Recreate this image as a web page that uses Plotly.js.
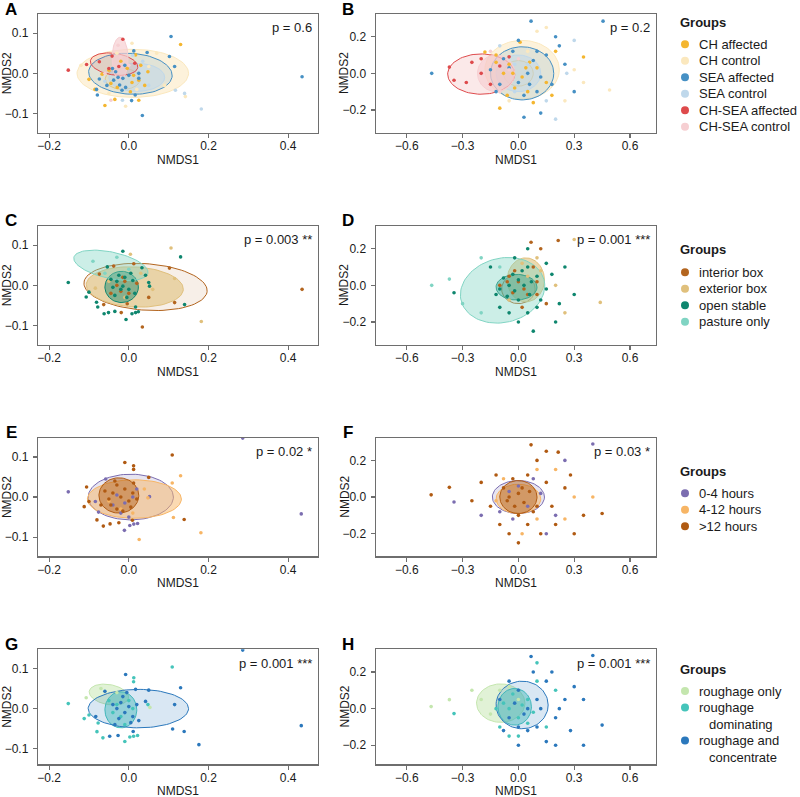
<!DOCTYPE html>
<html><head><meta charset="utf-8">
<script src="https://cdn.plot.ly/plotly-3.0.1.min.js"></script>
<style>html,body{margin:0;padding:0;background:#fff}#chart{width:800px;height:797px}</style>
</head><body><div id="chart"></div>
<script>
// ---------- labels ----------
const groupsLocation = ['CH affected','CH control','SEA affected','SEA control','CH-SEA affected','CH-SEA control'];
const groupsHousing = ['interior box','exterior box','open stable','pasture only'];
const groupsTime = ['0-4 hours','4-12 hours','>12 hours'];
const groupsFeed = ['roughage only','roughage\ndominating','roughage and\nconcentrate'];
const panelLetters = ['A','B','C','D','E','F','G','H'];
const pValues = ['p = 0.6','p = 0.2','p = 0.003 **','p = 0.001 ***','p = 0.02 *','p = 0.03 *','p = 0.001 ***','p = 0.001 ***'];
const xTitle = 'NMDS1', yTitle = 'NMDS2';
const xTicksLeft = [-0.2, 0, 0.2, 0.4];
const yTicksLeft = [-0.1, 0, 0.1];
const xTicksRight = [-0.6, -0.3, 0, 0.3, 0.6];
const yTicksRight = [-0.2, 0, 0.2];

// ---------- points (per group, [NMDS1, NMDS2]) ----------
const A_pts = [
 [[0.13,0.072],[-0.06,-0.08],[-0.035,-0.065],[-0.1,-0.015],[0.025,-0.067],[0.004,-0.046],[0.017,0.046],[0.025,-0.017],[-0.004,0.0125],[-0.05,0.008],[-0.029,-0.035],[-0.067,-0.002],[0.048,0.004],[0.008,-0.023],[-0.085,-0.04],[0.04,-0.03],[-0.02,0.03],[0.012,-0.005],[-0.045,-0.025],[0.03,0.02]],
 [[-0.008,-0.082],[0.05,0.017],[0.008,0.075],[0.142,-0.058],[-0.03,0.05],[0.09,-0.03],[-0.12,0.02],[0.07,0.05],[-0.05,-0.05],[0.02,-0.04]],
 [[0.106,0.092],[0.046,0.052],[0.102,0.042],[0.115,0.017],[0.034,-0.105],[0.016,-0.054],[0.007,-0.068],[-0.079,-0.054],[-0.081,-0.04],[-0.074,-0.014],[0.0125,0.056],[-0.041,0.012],[-0.033,0.004],[-0.027,-0.01],[-0.015,-0.0125],[-0.038,-0.017],[-0.023,-0.029],[-0.008,-0.035],[-0.017,-0.042],[0.025,-0.0125],[0.025,0.0],[0.435,-0.0085],[-0.01,0.02],[0.0,-0.005],[-0.055,-0.03]],
 [[0.182,-0.089],[0.14,-0.05],[0.117,-0.042],[-0.016,-0.067],[0.01,0.045],[-0.06,-0.02],[0.05,-0.03],[0.035,0.03]],
 [[-0.152,0.008],[-0.106,0.022],[-0.074,0.029],[-0.015,0.085],[-0.042,0.043],[-0.05,0.012],[-0.025,0.017],[0.015,0.025]],
 [[-0.027,0.07],[-0.045,-0.067],[-0.02,0.04],[0.0,0.02],[-0.06,0.0]]
];
const C_pts = [
 [[0.102,0.043],[0.115,-0.043],[0.034,-0.104],[-0.019,-0.068],[-0.063,-0.048],[-0.074,0.028],[-0.038,0.048],[0.0125,0.054],[-0.004,-0.046],[0.435,-0.01],[-0.03,0.0],[-0.01,0.01],[-0.02,-0.015],[0.0,-0.02],[0.02,0.005],[-0.045,-0.02],[0.05,-0.03],[-0.015,0.02]],
 [[0.004,0.0775],[0.106,0.093],[0.115,0.017],[0.182,-0.09],[-0.084,-0.007],[0.03,0.03],[-0.01,-0.03],[0.06,-0.01],[-0.05,0.01]],
 [[-0.152,0.007],[-0.015,0.085],[0.13,0.071],[0.14,-0.048],[-0.007,-0.085],[-0.062,-0.071],[-0.051,-0.068],[-0.035,-0.065],[0.008,-0.071],[0.017,-0.068],[0.024,-0.066],[-0.081,-0.042],[-0.078,-0.054],[-0.107,-0.029],[-0.1,-0.017],[-0.054,0.046],[0.033,0.044],[0.042,0.025],[0.05,0.007],[0.052,-0.002],[0.017,-0.054],[-0.03,0.01],[-0.02,-0.01],[-0.01,0.02],[-0.04,-0.005],[0.0,-0.01],[-0.025,0.025],[-0.005,-0.03],[0.01,0.012],[-0.035,-0.025],[0.015,-0.02],[-0.045,0.015],[-0.015,-0.002],[0.005,0.03]],
 [[-0.09,0.06],[-0.03,0.07],[0.0,0.04],[-0.06,0.03]]
];
const E_pts = [
 [[-0.152,0.013],[0.052,0.001],[-0.011,-0.083],[0.0025,-0.071],[0.0125,-0.0675],[0.022,-0.066],[-0.076,-0.0375],[-0.084,-0.011],[-0.058,0.045],[0.286,0.147],[0.433,-0.042],[-0.03,0.005],[-0.01,-0.015],[0.01,0.0],[-0.02,-0.04],[0.0,-0.05],[-0.04,-0.02],[0.02,0.02]],
 [[0.13,0.053],[0.112,-0.051],[0.181,-0.089],[0.026,-0.106],[0.039,0.02],[0.048,-0.002],[0.109,0.035],[-0.02,-0.03],[0.01,-0.04],[-0.05,-0.01]],
 [[-0.01,0.086],[0.012,0.078],[0.012,0.069],[0.109,0.105],[0.05,0.049],[0.139,-0.056],[0.009,-0.058],[-0.025,-0.064],[-0.047,-0.067],[-0.064,-0.0725],[-0.08,-0.057],[-0.112,-0.024],[-0.1,-0.011],[-0.106,0.025],[-0.06,0.015],[-0.04,0.01],[-0.03,0.03],[-0.02,0.0],[-0.01,0.02],[0.0,-0.01],[0.01,0.01],[-0.045,-0.02],[-0.03,-0.03],[-0.015,-0.035],[0.005,-0.025],[0.02,-0.005],[-0.05,-0.005],[-0.035,0.04],[0.012,0.035],[-0.07,-0.02]]
];
const G_pts = [
 [[-0.107,0.027],[0.053,0.003],[-0.07,0.05],[-0.03,0.04]],
 [[-0.152,0.0125],[0.0125,0.077],[0.012,0.067],[0.109,0.104],[0.048,0.01],[-0.112,-0.025],[-0.1,-0.016],[-0.077,-0.036],[-0.08,-0.0575],[-0.065,-0.073],[-0.01,-0.082],[0.0025,-0.071],[0.012,-0.069],[0.022,-0.067],[-0.03,0.01],[-0.02,-0.02],[0.0,0.02],[-0.04,-0.01],[-0.01,-0.04],[0.01,0.0],[-0.05,0.02]],
 [[-0.008,0.085],[0.13,0.052],[0.05,0.046],[0.017,0.048],[0.115,0.01],[0.11,-0.051],[0.139,-0.057],[0.042,0.018],[-0.06,0.043],[-0.083,-0.02],[-0.048,-0.069],[-0.027,-0.067],[0.011,-0.057],[0.286,0.146],[0.433,-0.0425],[0.176,-0.09],[-0.03,0.0],[-0.02,0.015],[-0.01,-0.01],[0.0,0.005],[-0.025,-0.025],[-0.04,0.01],[0.01,-0.02],[-0.015,0.03],[0.02,0.01],[-0.035,-0.04],[0.005,-0.035],[-0.005,0.04],[0.025,-0.03]]
];
const B_pts = [
 [[0.009,0.17],[-0.18,0.116],[0.35,0.089],[-0.1,-0.19],[0.05,-0.1],[-0.05,0.05],[0.02,-0.02],[-0.08,0.0],[0.1,0.03],[0.15,-0.05],[-0.02,-0.08],[0.06,0.06],[-0.12,0.06],[0.2,0.12],[-0.06,-0.12],[-0.12,0.1],[0.18,-0.12],[0.08,-0.16],[-0.03,0.0],[0.04,0.03]],
 [[0.49,-0.091],[0.1,0.23],[0.25,-0.15],[-0.2,0.08],[0.05,0.12],[0.3,0.02],[-0.05,-0.15],[0.15,0.25],[0.35,-0.05]],
 [[-0.466,0.0],[0.068,0.285],[0.455,0.285],[0.12,-0.217],[0.03,-0.24],[0.2,0.2],[0.25,0.05],[0.3,-0.1],[-0.05,0.03],[0.0,-0.05],[0.05,0.0],[-0.1,-0.06],[0.1,-0.1],[0.15,0.1],[-0.03,0.12],[0.08,0.07],[-0.15,0.02],[0.12,-0.02],[0.03,-0.12],[0.18,-0.06],[-0.08,0.08],[0.22,0.15],[0.0,0.18],[0.06,-0.06],[-0.12,-0.1],[0.1,0.12]],
 [[0.2,-0.25],[-0.1,0.15],[0.05,0.05],[-0.02,-0.1],[0.15,-0.15],[0.26,0.0],[0.3,0.18],[-0.02,0.05]],
 [[-0.371,0.034],[-0.346,-0.038],[-0.2,0.0],[-0.1,0.04],[-0.15,-0.06],[-0.05,0.09],[-0.25,0.06],[-0.28,-0.05],[-0.2,0.08]],
 [[-0.15,0.12],[-0.1,-0.1],[-0.05,0.02],[0.0,0.08]]
];
const D_pts = [
 [[0.214,0.245],[0.068,0.235],[-0.05,0.05],[0.05,-0.05],[0.0,0.02],[-0.03,-0.04],[0.1,0.02],[0.15,-0.1],[-0.1,0.0],[0.02,-0.12],[0.08,0.1],[-0.02,0.08],[0.03,-0.02],[0.1,-0.05],[-0.06,0.02],[0.12,0.2]],
 [[0.44,-0.093],[0.3,0.25],[0.1,0.15],[0.2,0.0],[0.05,0.05],[-0.05,-0.08],[0.25,-0.15],[0.12,0.08],[0.02,0.12]],
 [[-0.346,-0.04],[-0.1,-0.12],[0.0,-0.2],[0.05,-0.15],[-0.05,0.0],[0.0,0.03],[0.03,0.0],[-0.02,-0.03],[0.06,-0.05],[-0.08,0.04],[0.1,0.05],[-0.12,-0.05],[0.12,-0.08],[0.2,-0.2],[0.25,0.1],[0.02,0.08],[-0.03,0.06],[0.07,0.02],[-0.06,-0.06],[0.0,-0.08],[0.3,-0.05],[-0.15,0.1],[0.15,0.12],[0.05,0.2],[-0.1,-0.02],[0.05,0.1],[0.1,-0.12],[-0.05,-0.15],[0.15,-0.02],[0.18,0.06],[-0.02,0.15],[0.22,-0.1],[0.08,-0.25]],
 [[-0.466,0.0],[-0.371,0.034],[-0.2,0.15],[-0.1,0.1],[-0.3,-0.1],[-0.2,-0.15]]
];
const F_pts = [
 [[-0.346,-0.027],[0.4,0.29],[-0.05,0.03],[0.05,-0.05],[0.0,0.06],[-0.1,-0.08],[0.12,0.02],[-0.03,-0.12],[0.2,-0.1],[0.08,0.1],[0.25,0.2],[-0.2,-0.1],[0.15,-0.2]],
 [[0.2,0.15],[-0.08,0.1],[0.1,-0.12],[0.3,0.0],[-0.12,-0.02],[0.02,-0.2],[0.4,0.0],[0.25,-0.12],[0.1,0.15]],
 [[-0.469,0.012],[-0.371,0.053],[0.068,0.285],[0.214,0.245],[0.45,-0.09],[-0.05,0.0],[0.0,0.02],[0.03,-0.03],[-0.02,-0.05],[0.06,0.03],[-0.08,0.05],[0.1,-0.05],[0.15,0.08],[-0.15,-0.05],[0.0,-0.1],[0.05,0.12],[-0.1,-0.15],[0.2,-0.15],[0.25,0.05],[-0.2,0.08],[0.12,-0.2],[-0.03,0.1],[0.3,-0.2],[0.08,-0.08],[-0.06,-0.02],[0.02,0.05],[0.1,0.2],[-0.12,0.12],[0.18,-0.05],[0.28,0.12],[-0.05,-0.2],[0.05,-0.15],[-0.25,-0.02],[0.35,-0.1],[0.15,0.25],[0.0,-0.25]]
];
const H_pts = [
 [[-0.469,0.011],[-0.371,0.049],[-0.2,0.05],[-0.15,-0.03],[-0.1,0.1],[0.0,0.05],[-0.25,0.1],[-0.05,0.12]],
 [[-0.346,-0.027],[0.1,0.25],[-0.05,0.0],[0.0,-0.05],[0.05,0.05],[-0.1,-0.1],[0.02,0.02],[-0.03,0.08],[0.08,-0.02],[-0.08,0.03],[0.0,-0.15],[0.15,-0.1],[0.2,0.1],[-0.12,0.0],[0.05,-0.08],[0.1,0.15],[-0.05,-0.15]],
 [[0.068,0.285],[0.4,0.29],[0.45,-0.09],[0.35,-0.2],[0.05,0.0],[0.1,0.05],[0.0,0.1],[-0.05,-0.05],[0.1,-0.1],[0.15,0.15],[0.2,-0.05],[0.25,0.05],[-0.1,0.05],[0.0,-0.2],[0.05,-0.12],[0.12,0.0],[-0.02,0.03],[0.03,-0.03],[0.3,0.12],[-0.08,-0.12],[0.2,-0.2],[0.18,0.2],[0.28,-0.12],[0.08,0.2],[-0.05,0.15],[0.15,-0.18],[0.35,0.05],[0.0,-0.1],[0.22,0.0]]
];

// ---------- ellipses per group: [centre NMDS1, centre NMDS2, semi-axis 1, semi-axis 2, angle deg] ----------
const A_ell = [[-0.015,-0.014,0.044,0.026,0],[0.01,0.0,0.14,0.06,0],[0.004,-0.001,0.105,0.051,-3],[0.02,-0.01,0.07,0.035,0],[-0.037,0.023,0.06,0.027,-8],[-0.022,0.037,0.02,0.053,0]];
const C_ell = [[0.042,-0.004,0.155,0.058,-4],[0.015,-0.004,0.122,0.05,-3],[-0.018,-0.004,0.042,0.039,0],[-0.045,0.05,0.095,0.033,-12]];
const E_ell = [[0.005,0.0,0.107,0.057,0],[0.014,-0.005,0.118,0.048,0],[-0.025,0.004,0.05,0.044,0]];
const G_ell = [[-0.05,0.035,0.05,0.025,-10],[-0.02,-0.003,0.04,0.045,0],[0.024,0.0,0.126,0.048,0]];
const B_ell = [[0.0,0.0,0.08,0.07,0],[0.02,0.02,0.2,0.16,0],[0.02,0.0,0.17,0.145,0],[0.0,0.0,0.12,0.1,0],[-0.2,-0.004,0.18,0.11,0],[-0.12,0.0,0.1,0.1,0]];
const D_ell = [[0.0,-0.02,0.09,0.08,0],[0.04,0.03,0.1,0.12,0],[-0.01,-0.01,0.11,0.07,0],[-0.085,-0.027,0.23,0.175,15]];
const F_ell = [[0.0,0.0,0.14,0.09,0],[0.0,-0.01,0.12,0.08,0],[0.0,0.0,0.1,0.09,0]];
const H_ell = [[-0.095,0.03,0.13,0.105,0],[-0.02,0.01,0.09,0.1,0],[0.02,0.02,0.14,0.13,0]];

// ---------- styles ----------
const colLocation = ['#F4B630','#FBE8BE','#4690C4','#BFD8EB','#DE4A4C','#F6CFD2'];
const colHousing = ['#B3651F','#E0C07C','#0E866E','#80D4C3'];
const colTime = ['#7B6DB0','#F7B565','#B05A12'];
const colFeed = ['#C4E6AE','#45C4BA','#2B78BC'];
const fillLocation = [0.15, 0.55, 0.15, 0.5, 0.12, 0.7];
const fillHousing = [0.1, 0.6, 0.45, 0.4];
const fillTime = [0.18, 0.5, 0.45];
const fillFeed = [0.5, 0.45, 0.18];

const W = 800, H = 797;
const colPx = [[38, 318], [375.7, 655.7]];
const rowTop = [14, 226, 437.7, 649.3];
const rowH = [118.7, 118.7, 118.7, 115];
const xTitleGap = [27.5, 27.5, 27, 26.5];
const xRangeCols = [[-0.228, 0.475], [-0.767, 0.738]];
const yRangeLeft = [[-0.148, 0.148], [-0.148, 0.148], [-0.148, 0.148], [-0.139, 0.148]];
const yRangeRight = [[-0.324, 0.324], [-0.324, 0.324], [-0.324, 0.324], [-0.304, 0.324]];

function rgba(hex, a) {
  const n = parseInt(hex.slice(1), 16);
  return `rgba(${(n >> 16) & 255},${(n >> 8) & 255},${n & 255},${a})`;
}
function ellipse(e) {
  const [cx, cy, rx, ry, ang] = e, a = ang * Math.PI / 180, xs = [], ys = [];
  for (let i = 0; i <= 90; i++) {
    const t = i / 90 * 2 * Math.PI, u = rx * Math.cos(t), v = ry * Math.sin(t);
    xs.push(cx + u * Math.cos(a) - v * Math.sin(a));
    ys.push(cy + u * Math.sin(a) + v * Math.cos(a));
  }
  return [xs, ys];
}

const panels = [
  {pts: A_pts, ell: A_ell, cols: colLocation, fa: fillLocation, names: groupsLocation},
  {pts: B_pts, ell: B_ell, cols: colLocation, fa: fillLocation, names: groupsLocation},
  {pts: C_pts, ell: C_ell, cols: colHousing, fa: fillHousing, names: groupsHousing},
  {pts: D_pts, ell: D_ell, cols: colHousing, fa: fillHousing, names: groupsHousing},
  {pts: E_pts, ell: E_ell, cols: colTime, fa: fillTime, names: groupsTime},
  {pts: F_pts, ell: F_ell, cols: colTime, fa: fillTime, names: groupsTime},
  {pts: G_pts, ell: G_ell, cols: colFeed, fa: fillFeed, names: groupsFeed},
  {pts: H_pts, ell: H_ell, cols: colFeed, fa: fillFeed, names: groupsFeed}
];

const traces = [];
const layout = {
  width: W, height: H, margin: {l: 0, r: 0, t: 0, b: 0},
  paper_bgcolor: '#fff', plot_bgcolor: '#fff', showlegend: false,
  font: {family: 'Liberation Sans, Arial, sans-serif', color: '#1a1a1a', size: 12},
  annotations: [], shapes: []
};
const px2x = p => p / W, py2y = p => 1 - p / H;

panels.forEach((p, k) => {
  const col = k % 2, row = Math.floor(k / 2), idx = k + 1;
  const xa = 'x' + (idx === 1 ? '' : idx), ya = 'y' + (idx === 1 ? '' : idx);
  p.ell.forEach((e, g) => {
    const [xs, ys] = ellipse(e);
    traces.push({type: 'scatter', mode: 'lines', x: xs, y: ys, xaxis: xa, yaxis: ya,
      fill: 'toself', fillcolor: rgba(p.cols[g], p.fa[g]), line: {color: p.cols[g], width: 1},
      hoverinfo: 'skip', showlegend: false});
  });
  p.pts.forEach((pts, g) => {
    traces.push({type: 'scatter', mode: 'markers', name: p.names[g].replace('\n', ' '),
      x: pts.map(d => d[0]), y: pts.map(d => d[1]), xaxis: xa, yaxis: ya,
      marker: {color: p.cols[g], size: 3.6}, showlegend: false});
  });
  const axBase = {showgrid: false, zeroline: false, showline: true, mirror: true,
    linecolor: '#6e6e6e', linewidth: 1.2, ticks: 'outside', ticklen: 4, tickwidth: 1.1,
    tickcolor: '#6e6e6e', tickfont: {size: 12, color: '#1a1a1a'}, tickformat: '.1f', fixedrange: true};
  const bottom = rowTop[row] + rowH[row];
  layout['xaxis' + (idx === 1 ? '' : idx)] = Object.assign({}, axBase, {
    anchor: ya, domain: [px2x(colPx[col][0]), px2x(colPx[col][1])], range: xRangeCols[col],
    tickmode: 'array', tickvals: col === 0 ? xTicksLeft : xTicksRight, ticklabelstandoff: -2});
  layout['yaxis' + (idx === 1 ? '' : idx)] = Object.assign({}, axBase, {
    anchor: xa, domain: [py2y(bottom), py2y(rowTop[row])], range: (col === 0 ? yRangeLeft : yRangeRight)[row],
    tickmode: 'array', tickvals: col === 0 ? yTicksLeft : yTicksRight, ticklabelstandoff: 2});
  // axis titles
  layout.annotations.push({xref: 'paper', yref: 'paper', x: px2x((colPx[col][0] + colPx[col][1]) / 2),
    y: py2y(bottom + xTitleGap[row]), xanchor: 'center', yanchor: 'middle', showarrow: false,
    text: xTitle, font: {size: 12, color: '#1a1a1a'}});
  layout.annotations.push({xref: 'paper', yref: 'paper', x: px2x(colPx[col][0] - 31),
    y: py2y(rowTop[row] + rowH[row] / 2), xanchor: 'center', yanchor: 'middle', showarrow: false, textangle: -90,
    text: yTitle, font: {size: 12, color: '#1a1a1a'}});
  // p-value
  layout.annotations.push({xref: 'paper', yref: 'paper', x: px2x(colPx[col][1] - 4), y: py2y(rowTop[row] + 14),
    xanchor: 'right', yanchor: 'middle', showarrow: false, text: pValues[k], font: {size: 13, color: '#1a1a1a'}});
  // panel letter
  const letterX = col === 0 ? 11 : 348;
  layout.annotations.push({xref: 'paper', yref: 'paper', x: px2x(letterX), y: py2y(rowTop[row] - 5),
    xanchor: 'center', yanchor: 'middle', showarrow: false, text: '<b>' + panelLetters[k] + '</b>',
    font: {size: 17, color: '#000'}});
});

// ---------- legends (one per row) ----------
const legendSets = [
  {names: groupsLocation, cols: colLocation, titleY: 23, y0: 44.3},
  {names: groupsHousing, cols: colHousing, titleY: 250, y0: 272.3},
  {names: groupsTime, cols: colTime, titleY: 471, y0: 493.3},
  {names: groupsFeed, cols: colFeed, titleY: 669, y0: 691}
];
const lineStep = 16.5;
legendSets.forEach(L => {
  layout.annotations.push({xref: 'paper', yref: 'paper', x: px2x(678), y: py2y(L.titleY), xanchor: 'left', yanchor: 'middle',
    showarrow: false, text: '<b>Groups</b>', font: {size: 13, color: '#1a1a1a'}});
  let y = L.y0;
  L.names.forEach((nm, i) => {
    const r = 4;
    layout.shapes.push({type: 'circle', xref: 'paper', yref: 'paper', x0: px2x(685 - r), x1: px2x(685 + r),
      y0: py2y(y + r), y1: py2y(y - r), fillcolor: L.cols[i], line: {width: 0}});
    nm.split('\n').forEach((line, j) => {
      layout.annotations.push({xref: 'paper', yref: 'paper', x: px2x(j === 0 ? 697 : 707), y: py2y(y), xanchor: 'left', yanchor: 'middle',
        showarrow: false, text: line, font: {size: 13, color: '#1a1a1a'}});
      y += lineStep;
    });
  });
});

Plotly.newPlot('chart', traces, layout, {staticPlot: true, displayModeBar: false});
</script></body></html>
